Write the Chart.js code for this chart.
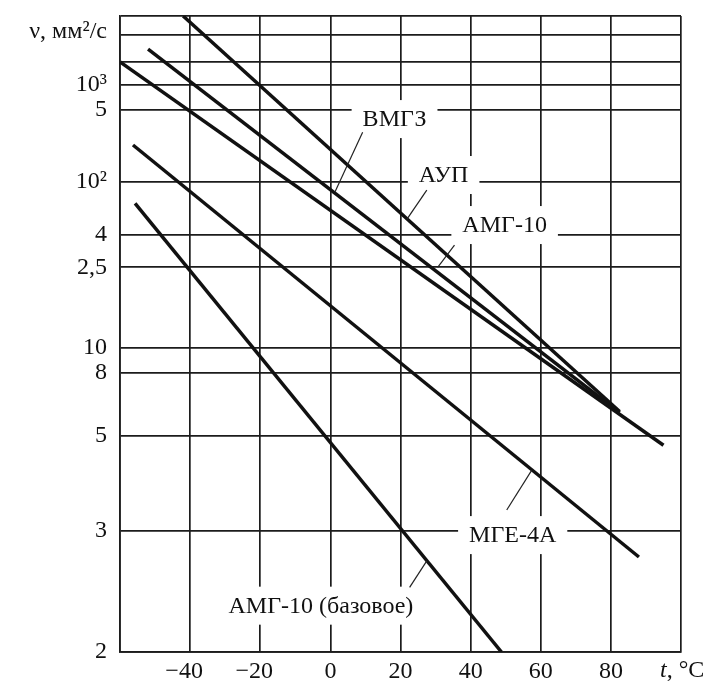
<!DOCTYPE html>
<html>
<head>
<meta charset="utf-8">
<script src="https://cdn.jsdelivr.net/npm/chart.js@4.4.1/dist/chart.umd.min.js"></script>
<style>
  html, body { margin: 0; padding: 0; background: #fff; }
  #wrap { width: 708px; height: 684px; }
</style>
</head>
<body>
<div id="wrap"><canvas id="myChart"></canvas></div>
<script>
// temperature, °C / kinematic viscosity, mm2/s  (two ends of each straight line)
const tempAUP = [-42, 82.5];
const viscAUP = [10000, 5.9];
const tempVMGZ = [-52, 82.5];
const viscVMGZ = [3040, 5.85];
const tempAMG = [-60, 95];
const viscAMG = [2000, 4.7];
const tempMGE = [-56.3, 88];
const viscMGE = [214, 2.7];
const tempAMGbase = [-55.7, 48.8];
const viscAMGbase = [67, 2];

const yTicks = [2, 3, 5, 8, 10, 25, 40, 100, 500, 1000, 2000, 5000, 10000];
const yTickLabels = ["2", "3", "5", "8", "10", "2,5", "4", "10²", "5", "10³", "", "", ""];
const xTicks = [-60, -40, -20, 0, 20, 40, 60, 80, 100];

// curve captions and their leader lines
const labelText = ["АУП", "ВМГЗ", "АМГ-10", "МГЕ-4А", "АМГ-10 (базовое)"];
const labelT = [32.3, 18.3, 49.7, 52, -2.7];
const labelV = [113.6, 396, 46.5, 2.95, 2.28];
const leaderFromT = [27.5, 9.2, 35.4, 50.3, 22.6];
const leaderFromV = [85, 288, 34.1, 3.3, 2.42];
const leaderToT = [21.8, 1.3, 30.6, 57.4, 27.5];
const leaderToV = [51, 82, 25, 4.05, 2.66];

const FONT = "'Liberation Serif', 'DejaVu Serif', serif";

// double-log viscosity scale
const ww = (v) => Math.log10(Math.log10(v - 0.1));
const wInv = (w) => Math.pow(10, Math.pow(10, w)) + 0.1;

class ViscScale extends Chart.Scale {
  determineDataLimits() {
    this.min = this.options.min;
    this.max = this.options.max;
  }
  buildTicks() {
    return yTicks.map((v) => ({ value: v }));
  }
  getLabelForValue(v) {
    return String(v);
  }
  configure() {
    super.configure();
    this._lo = ww(this.min);
    this._hi = ww(this.max);
  }
  getPixelForValue(v) {
    return this.getPixelForDecimal((ww(v) - this._lo) / (this._hi - this._lo));
  }
  getValueForPixel(p) {
    return wInv(this._lo + this.getDecimalForPixel(p) * (this._hi - this._lo));
  }
}
ViscScale.id = "visc";
ViscScale.defaults = {};
Chart.register(ViscScale);

function pts(t, v) {
  return t.map((x, i) => ({ x: x, y: v[i] }));
}

function line(t, v, name) {
  return {
    label: name,
    data: pts(t, v),
    borderColor: "#111",
    borderWidth: 3.5,
    pointRadius: 0,
    tension: 0,
    fill: false,
  };
}

const captions = {
  id: "captions",
  beforeDatasetsDraw(chart) {
    const { ctx } = chart;
    const x = chart.scales.x, y = chart.scales.y;
    ctx.save();
    ctx.font = "24px " + FONT;
    ctx.fillStyle = "#fff";
    labelText.forEach((txt, i) => {
      const w = ctx.measureText(txt).width + 22;
      const px = x.getPixelForValue(labelT[i]);
      const py = y.getPixelForValue(labelV[i]);
      ctx.fillRect(px - w / 2, py - 19, w, 38);
    });
    ctx.restore();
  },
  afterDatasetsDraw(chart) {
    const { ctx, chartArea } = chart;
    const x = chart.scales.x, y = chart.scales.y;
    ctx.save();
    // leaders
    ctx.strokeStyle = "#222";
    ctx.lineWidth = 1.2;
    leaderFromT.forEach((t, i) => {
      ctx.beginPath();
      ctx.moveTo(x.getPixelForValue(t), y.getPixelForValue(leaderFromV[i]));
      ctx.lineTo(x.getPixelForValue(leaderToT[i]), y.getPixelForValue(leaderToV[i]));
      ctx.stroke();
    });
    // captions
    ctx.fillStyle = "#111";
    ctx.font = "24px " + FONT;
    ctx.textAlign = "center";
    ctx.textBaseline = "middle";
    labelText.forEach((txt, i) => {
      ctx.fillText(txt, x.getPixelForValue(labelT[i]), y.getPixelForValue(labelV[i]) + 1);
    });
    // axis titles
    ctx.textAlign = "right";
    ctx.fillText("ν, мм²/с", chartArea.left - 13, chartArea.top + 16);
    const ty = chartArea.bottom + 19;
    ctx.textAlign = "left";
    ctx.font = "italic 24px " + FONT;
    ctx.fillText("t", chartArea.right - 21, ty);
    const tw = ctx.measureText("t").width;
    ctx.font = "24px " + FONT;
    ctx.fillText(", °C", chartArea.right - 21 + tw, ty);
    ctx.restore();
  },
};

const gridStyle = { color: "#1c1c1c", lineWidth: 1.7, drawTicks: false };

function noPad(s) {
  s.paddingTop = 0;
  s.paddingBottom = 0;
  s.paddingLeft = 0;
  s.paddingRight = 0;
}

new Chart(document.getElementById("myChart"), {
  type: "line",
  data: {
    datasets: [
      line(tempAUP, viscAUP, "АУП"),
      line(tempVMGZ, viscVMGZ, "ВМГЗ"),
      line(tempAMG, viscAMG, "АМГ-10"),
      line(tempMGE, viscMGE, "МГЕ-4А"),
      line(tempAMGbase, viscAMGbase, "АМГ-10 (базовое)"),
    ],
  },
  options: {
    animation: false,
    responsive: true,
    maintainAspectRatio: false,
    layout: { padding: { top: 16, right: 27, left: 0, bottom: 0 } },
    scales: {
      x: {
        type: "linear",
        min: -60,
        max: 100,
        afterBuildTicks: (s) => { s.ticks = xTicks.map((v) => ({ value: v })); },
        afterFit: (s) => { s.height = 32; noPad(s); },
        grid: gridStyle,
        border: { display: true, color: "#1c1c1c", width: 1.7 },
        ticks: {
          autoSkip: false,
          maxRotation: 0,
          padding: 5,
          color: "#111",
          font: { family: FONT, size: 24 },
          callback: (v) => {
            if (v === -60 || v === 100) return "";
            return v < 0 ? "−" + Math.abs(v) + "\u2007" : String(v);
          },
        },
      },
      y: {
        type: "visc",
        min: 2,
        max: 10000,
        afterFit: (s) => { s.width = 120; noPad(s); },
        grid: gridStyle,
        border: { display: true, color: "#1c1c1c", width: 1.7 },
        ticks: {
          autoSkip: false,
          padding: 13,
          color: "#111",
          font: { family: FONT, size: 24 },
          callback: (v, i) => yTickLabels[i],
        },
      },
    },
    plugins: {
      legend: { display: false },
      tooltip: { enabled: false },
    },
  },
  plugins: [captions],
});
</script>
</body>
</html>
